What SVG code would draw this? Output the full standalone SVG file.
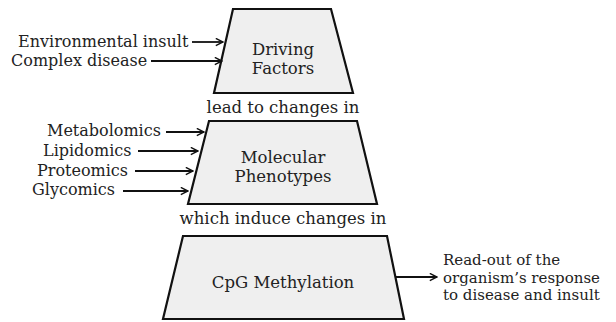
<svg xmlns="http://www.w3.org/2000/svg" width="616" height="322" viewBox="0 0 616 322">
<style>
text{font-family:"DejaVu Serif","Liberation Serif",serif;font-size:16.5px;fill:#222}
.c{text-anchor:middle}
.l{font-size:16px}
.r{font-size:15px}
.box{fill:#efefef;stroke:#111;stroke-width:2.2;stroke-linejoin:miter}
.arr{stroke:#111;stroke-width:1.8;fill:none;marker-end:url(#ah)}
</style>
<defs>
<marker id="ah" viewBox="0 0 10 10" refX="9" refY="5" markerWidth="5" markerHeight="5" markerUnits="strokeWidth" orient="auto">
<path d="M1,1 L9,5 L1,9" fill="none" stroke="#111" stroke-width="1.6"/>
</marker>
</defs>
<rect width="616" height="322" fill="#fff"/>
<g id="driving">
<polygon class="box" points="233,9 331,9 353,93 214,93"/>
<text class="c" x="283" y="55">Driving</text>
<text class="c" x="283" y="74">Factors</text>
</g>
<g id="molecular">
<polygon class="box" points="209,121 357,121 377,204 188,204"/>
<text class="c" x="283" y="163">Molecular</text>
<text class="c" x="283" y="182">Phenotypes</text>
</g>
<g id="cpg">
<polygon class="box" points="183,236 387,236 404,319 163,319"/>
<text class="c" x="283" y="288">CpG Methylation</text>
</g>
<g id="labels">
<text class="l" x="18" y="47">Environmental insult</text>
<text class="l" x="11" y="66">Complex disease</text>
<text class="c" x="283" y="113">lead to changes in</text>
<text class="l" x="47" y="136">Metabolomics</text>
<text class="l" x="43" y="156">Lipidomics</text>
<text class="l" x="37" y="176">Proteomics</text>
<text class="l" x="32" y="195">Glycomics</text>
<text class="c" x="283" y="224">which induce changes in</text>
<text class="r" x="443" y="265">Read-out of the</text>
<text class="r" x="443" y="283">organism’s response</text>
<text class="r" x="443" y="300">to disease and insult</text>
</g>
<g id="connectors">
<line class="arr" x1="192" y1="42" x2="223" y2="42"/>
<line class="arr" x1="151" y1="61" x2="222" y2="61"/>
<line class="arr" x1="166" y1="132" x2="204" y2="132"/>
<line class="arr" x1="138" y1="151" x2="198" y2="151"/>
<line class="arr" x1="135" y1="171" x2="193" y2="171"/>
<line class="arr" x1="123" y1="191" x2="188" y2="191"/>
<line class="arr" x1="396" y1="277" x2="437" y2="277"/>
</g>
</svg>
